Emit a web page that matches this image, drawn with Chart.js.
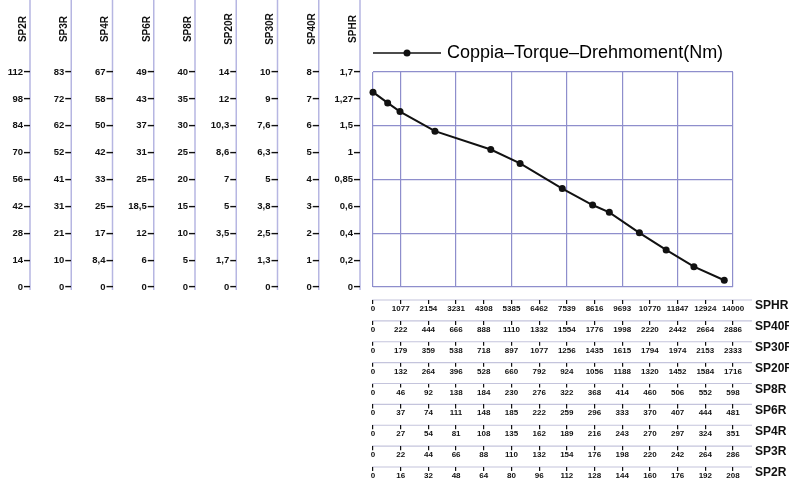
<!DOCTYPE html>
<html>
<head>
<meta charset="utf-8">
<script src="https://cdn.jsdelivr.net/npm/chart.js@4.4.0/dist/chart.umd.min.js"></script>
<style>
html, body { margin: 0; padding: 0; background: #fff; }
</style>
</head>
<body>
<canvas id="chart" width="789" height="483"></canvas>
<script>
// curva coppia: x = giri scala SPHR, y = coppia scala SP2R (Nm)
var speedSPHR = [0, 570, 1050, 2410, 4580, 5720, 7360, 8540, 9190, 10360, 11400, 12480, 13660]
var torqueSP2R = [101.5, 95.9, 91.4, 81.2, 71.6, 64.4, 51.3, 42.7, 38.9, 28.2, 19.3, 10.6, 3.5]
var legendText = 'Coppia\u2013Torque\u2013Drehmoment(Nm)'

// scale verticali, da sinistra a destra (etichette dal basso in alto)
var yModels = ['SP2R', 'SP3R', 'SP4R', 'SP6R', 'SP8R', 'SP20R', 'SP30R', 'SP40R', 'SPHR']
var yTicksSP2R = ['0', '14', '28', '42', '56', '70', '84', '98', '112']
var yTicksSP3R = ['0', '10', '21', '31', '41', '52', '62', '72', '83']
var yTicksSP4R = ['0', '8,4', '17', '25', '33', '42', '50', '58', '67']
var yTicksSP6R = ['0', '6', '12', '18,5', '25', '31', '37', '43', '49']
var yTicksSP8R = ['0', '5', '10', '15', '20', '25', '30', '35', '40']
var yTicksSP20R = ['0', '1,7', '3,5', '5', '7', '8,6', '10,3', '12', '14']
var yTicksSP30R = ['0', '1,3', '2,5', '3,8', '5', '6,3', '7,6', '9', '10']
var yTicksSP40R = ['0', '1', '2', '3', '4', '5', '6', '7', '8']
var yTicksSPHR = ['0', '0,2', '0,4', '0,6', '0,85', '1', '1,5', '1,27', '1,7']
var yTicks = [yTicksSP2R, yTicksSP3R, yTicksSP4R, yTicksSP6R, yTicksSP8R, yTicksSP20R, yTicksSP30R, yTicksSP40R, yTicksSPHR]

// scale orizzontali, dall'alto in basso
var xModels = ['SPHR', 'SP40R', 'SP30R', 'SP20R', 'SP8R', 'SP6R', 'SP4R', 'SP3R', 'SP2R']
var xTicksSPHR = [0, 1077, 2154, 3231, 4308, 5385, 6462, 7539, 8616, 9693, 10770, 11847, 12924, 14000]
var xTicksSP40R = [0, 222, 444, 666, 888, 1110, 1332, 1554, 1776, 1998, 2220, 2442, 2664, 2886]
var xTicksSP30R = [0, 179, 359, 538, 718, 897, 1077, 1256, 1435, 1615, 1794, 1974, 2153, 2333]
var xTicksSP20R = [0, 132, 264, 396, 528, 660, 792, 924, 1056, 1188, 1320, 1452, 1584, 1716]
var xTicksSP8R = [0, 46, 92, 138, 184, 230, 276, 322, 368, 414, 460, 506, 552, 598]
var xTicksSP6R = [0, 37, 74, 111, 148, 185, 222, 259, 296, 333, 370, 407, 444, 481]
var xTicksSP4R = [0, 27, 54, 81, 108, 135, 162, 189, 216, 243, 270, 297, 324, 351]
var xTicksSP3R = [0, 22, 44, 66, 88, 110, 132, 154, 176, 198, 220, 242, 264, 286]
var xTicksSP2R = [0, 16, 32, 48, 64, 80, 96, 112, 128, 144, 160, 176, 192, 208]
var xTicks = [xTicksSPHR, xTicksSP40R, xTicksSP30R, xTicksSP20R, xTicksSP8R, xTicksSP6R, xTicksSP4R, xTicksSP3R, xTicksSP2R]

var gridCol = '#8e8ecc'
var axisCol = '#b6b6e2'
var rowCol = '#c4c4dc'
var ink = '#111'

Chart.defaults.font.family = '"Liberation Sans", Arial, sans-serif'
Chart.defaults.color = ink

function yId(m) { return m === 'SP2R' ? 'y' : 'y_' + m }
function xId(m) { return m === 'SPHR' ? 'x' : 'x_' + m }

var scales = {}

// assi verticali
yModels.forEach(function (m, k) {
    var labels = yTicks[k]
    var max = m === 'SP2R' ? 112 : 8
    scales[yId(m)] = {
        type: 'linear',
        position: 'left',
        weight: 9 - k,
        min: 0,
        max: max,
        afterBuildTicks: function (s) {
            s.ticks = labels.map(function (l, i) { return { value: i * max / 8 } })
        },
        afterFit: function (s) { s.width = k === 0 ? 30 : 41.25 },
        border: { display: false },
        grid: {
            drawOnChartArea: m === 'SP2R',
            color: function (c) { return c.index % 2 === 0 ? gridCol : 'rgba(0,0,0,0)' },
            lineWidth: 1.2,
            tickColor: ink,
            tickLength: 6,
            tickWidth: 1.4
        },
        ticks: {
            autoSkip: false,
            padding: 1,
            font: { size: 9.5, weight: 'bold' },
            callback: function (v, i) { return labels[i] }
        }
    }
})
// spazio tra SPHR e il grafico
scales.ys = {
    type: 'linear', position: 'left', weight: 0,
    afterFit: function (s) { s.width = 13 },
    border: { display: false }, grid: { display: false }, ticks: { display: false }
}

// assi orizzontali
xModels.forEach(function (m, k) {
    var vals = xTicks[k]
    scales[xId(m)] = {
        type: 'linear',
        position: 'bottom',
        weight: k + 1,
        min: 0,
        max: vals[vals.length - 1],
        afterBuildTicks: function (s) {
            s.ticks = vals.map(function (v) { return { value: v } })
        },
        afterFit: function (s) { s.height = k === xModels.length - 1 ? 16 : 20.875 },
        border: { display: false },
        grid: {
            drawOnChartArea: m === 'SPHR',
            color: function (c) { return (c.index === 0 || c.index % 2 === 1) ? gridCol : 'rgba(0,0,0,0)' },
            lineWidth: 1.2,
            tickColor: ink,
            tickLength: 4,
            tickWidth: 1.2
        },
        ticks: {
            autoSkip: false,
            maxRotation: 0,
            minRotation: 0,
            padding: 0,
            font: { size: 8, weight: 'bold' },
            callback: function (v, i) { return String(vals[i]) }
        }
    }
})
scales.xs = {
    type: 'linear', position: 'bottom', weight: 0,
    afterFit: function (s) { s.height = 13 },
    border: { display: false }, grid: { display: false }, ticks: { display: false }
}

// simbolo legenda: linea con punto
var legendIcon = document.createElement('canvas')
legendIcon.width = 68
legendIcon.height = 10
var ic = legendIcon.getContext('2d')
ic.strokeStyle = ink
ic.lineWidth = 1.6
ic.beginPath(); ic.moveTo(0, 5); ic.lineTo(68, 5); ic.stroke()
ic.fillStyle = ink
ic.beginPath(); ic.arc(34, 5, 3.5, 0, Math.PI * 2); ic.fill()

// linee lunghe degli assi e nomi dei modelli
var axisDecor = {
    id: 'axisDecor',
    beforeDraw: function (chart) {
        var ctx = chart.ctx
        var area = chart.chartArea
        ctx.save()
        yModels.forEach(function (m) {
            var s = chart.scales[yId(m)]
            ctx.strokeStyle = axisCol
            ctx.lineWidth = 1.5
            ctx.beginPath(); ctx.moveTo(s.right, 0); ctx.lineTo(s.right, area.bottom + 3); ctx.stroke()
            ctx.save()
            ctx.translate(s.right - 7, 29)
            ctx.rotate(-Math.PI / 2)
            ctx.font = 'bold 10px "Liberation Sans", Arial, sans-serif'
            ctx.fillStyle = ink
            ctx.textAlign = 'center'
            ctx.textBaseline = 'middle'
            ctx.fillText(m, 0, 0)
            ctx.restore()
        })
        xModels.forEach(function (m) {
            var s = chart.scales[xId(m)]
            ctx.strokeStyle = rowCol
            ctx.lineWidth = 1.2
            ctx.beginPath(); ctx.moveTo(s.left - 1, s.top); ctx.lineTo(752, s.top); ctx.stroke()
            ctx.font = 'bold 12px "Liberation Sans", Arial, sans-serif'
            ctx.fillStyle = ink
            ctx.textAlign = 'left'
            ctx.textBaseline = 'middle'
            ctx.fillText(m, 755, s.top + 6)
        })
        ctx.restore()
    }
}

var points = speedSPHR.map(function (v, i) { return { x: v, y: torqueSP2R[i] } })

new Chart(document.getElementById('chart'), {
    type: 'line',
    data: {
        datasets: [{
            label: legendText,
            data: points,
            xAxisID: 'x',
            yAxisID: 'y',
            borderColor: ink,
            backgroundColor: ink,
            borderWidth: 2,
            pointRadius: 3.5,
            pointBackgroundColor: ink,
            pointBorderWidth: 0,
            tension: 0,
            clip: false
        }]
    },
    options: {
        responsive: false,
        animation: false,
        layout: { padding: { top: 41, right: 56, left: 0, bottom: 0 } },
        scales: scales,
        plugins: {
            tooltip: { enabled: false },
            legend: {
                position: 'top',
                fullSize: false,
                align: 'start',
                labels: {
                    usePointStyle: true,
                    pointStyleWidth: 62,
                    padding: 3,
                    color: ink,
                    font: { size: 18 },
                    generateLabels: function () {
                        return [{ text: legendText, pointStyle: legendIcon, fillStyle: ink, strokeStyle: ink, lineWidth: 0, hidden: false, datasetIndex: 0 }]
                    }
                }
            }
        }
    },
    plugins: [axisDecor]
})
</script>
</body>
</html>
